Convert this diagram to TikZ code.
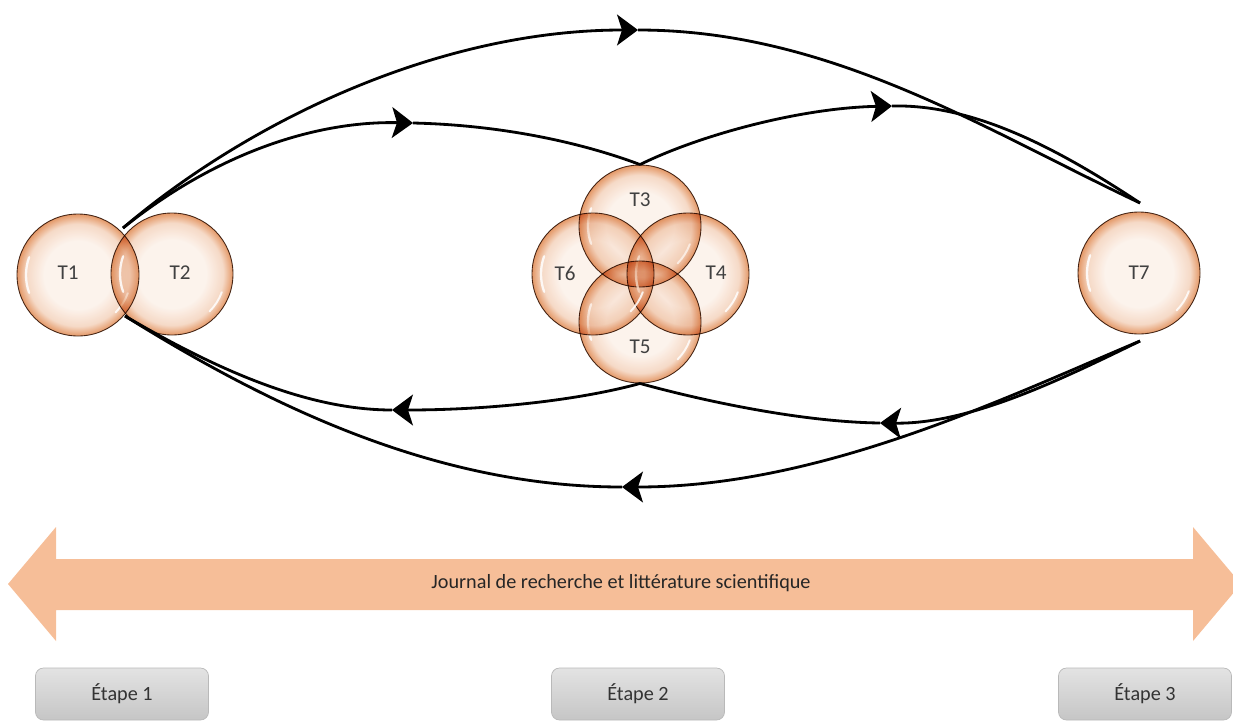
\documentclass[tikz,border=0pt]{standalone}
\usepackage{fontspec}
\setmainfont{Carlito}
\usetikzlibrary{arrows.meta,positioning,calc}

\definecolor{ballin}{HTML}{FCF1E9}
\definecolor{ballout}{HTML}{E08A52}
\colorlet{ballmid}{ballin!72!ballout}
\definecolor{ballline}{HTML}{4A3020}
\definecolor{band}{HTML}{F6BE98}
\pgfdeclareradialshading{tball}{\pgfpoint{0bp}{0bp}}{color(0bp)=(ballin); color(14bp)=(ballin); color(21bp)=(ballmid); color(25bp)=(ballout); color(50bp)=(ballout)}

\begin{document}
\begin{tikzpicture}[x=0.2mm,y=-0.2mm,
      font=\fontsize{11.5}{14}\selectfont,
      theme/.style={circle,minimum size=24.4mm,inner sep=0pt,shading=tball,
                    blend mode=multiply,fill opacity=.88,draw=ballline,draw opacity=1,line width=.5pt,
                    path picture={
                      \draw[blend mode=normal,white,opacity=.85,line width=1.3pt,line cap=round]
                        (path picture bounding box.center) ++(160:10.4mm)
                        arc[start angle=160,end angle=200,radius=10.4mm];
                      \draw[blend mode=normal,white,opacity=.85,line width=1.1pt,line cap=round]
                        (path picture bounding box.center) ++(-45:10.6mm)
                        arc[start angle=-45,end angle=-20,radius=10.6mm];}},
      tlab/.style={text=black!75,font=\fontsize{12}{14}\selectfont},
      flow/.style={line width=1.6pt,black},
      chev/.tip={Stealth[length=4.2mm,width=6.2mm,inset=1mm,line width=.9pt]},
      stage/.style={draw=gray!55,rounded corners=1.6mm,top color=gray!22,bottom color=gray!45,
                    minimum width=34.6mm,minimum height=10.4mm,text=black!80}]
    \useasboundingbox (0,0) rectangle (1233,721);
    \clip (0,0) rectangle (1233,721);
    % themes
    \node[theme] (T1) at (78,275) {};
    \node[theme] (T2) at (172,274) {};
    \node[theme] (T3) at (640,226) {};
    \node[theme] (T4) at (688,274) {};
    \node[theme] (T5) at (640,322) {};
    \node[theme] (T6) at (593,274) {};
    \node[theme] (T7) at (1139,273) {};
    \node[tlab] (l1) at (68,273) {T1};
    \node[tlab] (l2) at (180,273) {T2};
    \node[tlab] (l3) at (640,200) {T3};
    \node[tlab] (l4) at (716,273) {T4};
    \node[tlab] (l5) at (640,347) {T5};
    \node[tlab] (l6) at (565,273) {T6};
    \node[tlab] (l7) at (1139,273) {T7};
    % ends of the loops
    \coordinate (jt) at (123,228); \coordinate (jb) at (125,316);
    \coordinate (et) at (1140,203); \coordinate (eb) at (1140,341);
    \coordinate (a1) at (638,30); \coordinate (a2) at (413,123); \coordinate (a3) at (892,106);
    \coordinate (a4) at (622,487); \coordinate (a5) at (392,410); \coordinate (a6) at (880,423);
    % forward loops
    \draw[flow,-chev] (jt) .. controls (250,120) and (440,30) .. (a1);
    \draw[flow] (a1) .. controls (830,30) and (985,130) .. (et);
    \draw[flow,-chev] (jt) .. controls (220,150) and (320,121) .. (a2);
    \draw[flow] (a2) .. controls (500,125) and (580,142) .. (T3.north);
    \draw[flow,-chev] (T3.north) .. controls (700,135) and (800,108) .. (a3);
    \draw[flow] (a3) .. controls (975,104) and (1060,150) .. (et);
    % backward loops
    \draw[flow,-chev] (eb) .. controls (1000,400) and (820,487) .. (a4);
    \draw[flow] (a4) .. controls (430,487) and (260,400) .. (jb);
    \draw[flow,-chev] (eb) .. controls (1060,380) and (970,424) .. (a6);
    \draw[flow] (a6) .. controls (800,422) and (700,400) .. (T5.south);
    \draw[flow,-chev] (T5.south) .. controls (580,400) and (490,410) .. (a5);
    \draw[flow] (a5) .. controls (310,410) and (220,372) .. (jb);
    % band
    \fill[band] (8,584) -- (56,527) -- (56,559) -- (1193,559) -- (1193,527) -- (1241,584)
      -- (1193,641) -- (1193,610) -- (56,610) -- (56,641) -- cycle;
    \node[text=black!85] (journal) at (621,583) {Journal de recherche et littérature scientifique};
    % stages
    \node[stage] (s1) at (122,694) {Étape 1};
    \node[stage] (s2) at (638,694) {Étape 2};
    \node[stage] (s3) at (1145,694) {Étape 3};
  \end{tikzpicture}
\end{document}
